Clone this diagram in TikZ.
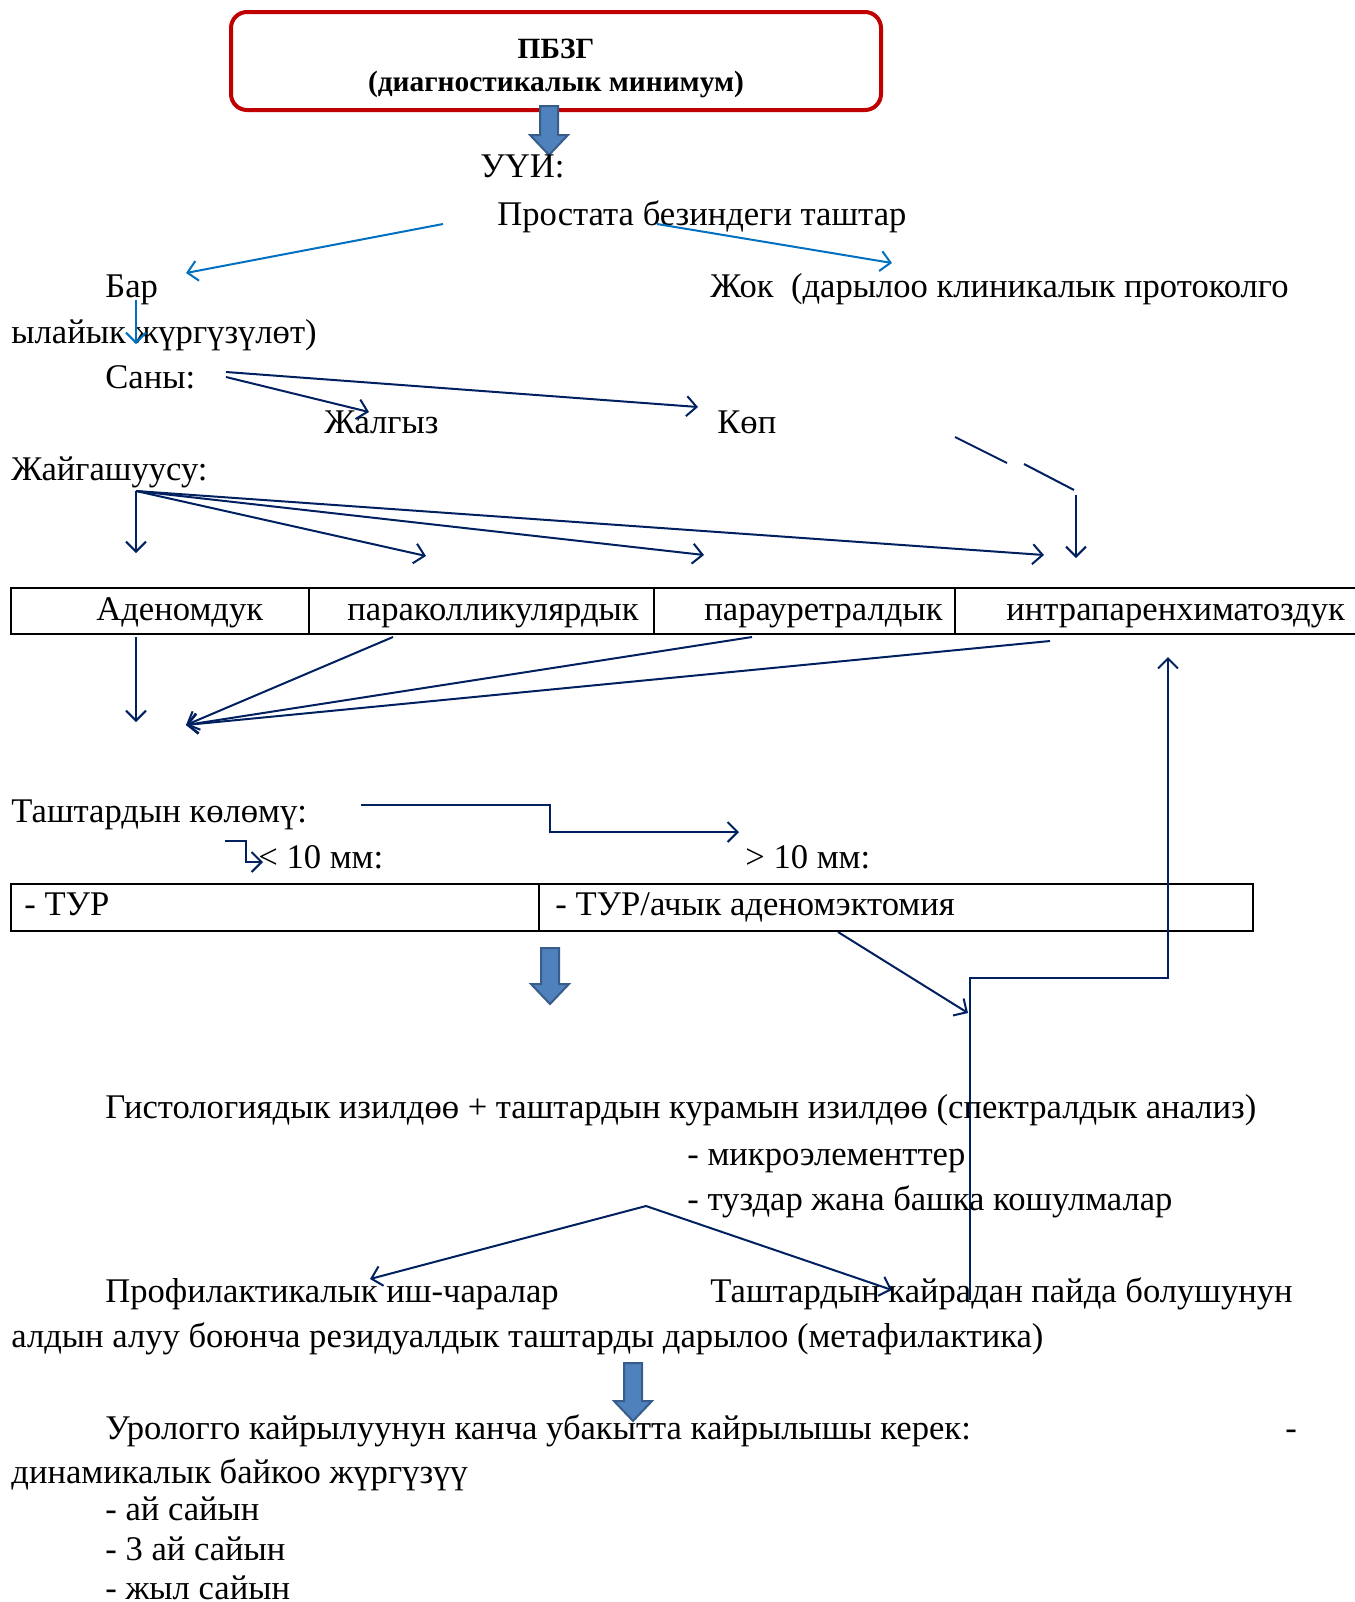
\documentclass[tikz,border=0pt]{standalone}
\usepackage{fontspec}
\setmainfont{Liberation Serif}
\usetikzlibrary{arrows.meta}
\definecolor{navy}{RGB}{0,32,96}
\definecolor{lblue}{RGB}{0,112,192}
\definecolor{bafill}{RGB}{79,129,189}
\definecolor{baedge}{RGB}{56,93,138}
\definecolor{boxred}{RGB}{192,0,0}
\begin{document}
\begin{tikzpicture}[x=0.5pt,y=-0.5pt,
  txt/.style={anchor=base west, inner sep=0, font=\fontsize{17.3}{20}\selectfont},
  btxt/.style={anchor=center, inner sep=0, font=\fontsize{14.7}{17}\selectfont\bfseries},
  barb/.style={-{Straight Barb[length=5pt,width=10pt,line width=1pt]}},
  nav/.style={draw=navy, line width=1pt, barb},
  navline/.style={draw=navy, line width=1pt},
  blu/.style={draw=lblue, line width=1pt, barb},
  tab/.style={draw=black, line width=1pt},
  blockarrow/.pic={\filldraw[fill=bafill, draw=baedge, line width=1pt]
     (-9,0) -- (9,0) -- (9,#1) -- (19,#1) -- (0,#1+20) -- (-19,#1) -- (-9,#1) -- cycle;},
]
\useasboundingbox (0,0) rectangle (1355,1602);

% top box
\draw[boxred, line width=2pt, rounded corners=8pt] (231,12) rectangle (881,110);
\node[btxt] (t1) at (556,49) {ПБЗГ};
\node[btxt] (t2) at (556,84) {(диагностикалык минимум)};
\pic at (549,106) {blockarrow=29};

\node[txt] (uui) at (480,177) {УҮИ:};
\node[txt] (pros) at (497,225) {Простата безиндеги таштар};
\node[txt] (bar) at (105,297) {Бар};
\node[txt] (jok) at (710,297) {Жок\ \ (дарылоо клиникалык протоколго};
\node[txt] (ylay) at (11,343) {ылайык жүргүзүлөт)};
\node[txt] (sany) at (105,388) {Саны:};
\node[txt] (jalg) at (324,433) {Жалгыз};
\node[txt] (kop) at (717,433) {Көп};
\node[txt] (jaig) at (11,480) {Жайгашуусу:};

\coordinate (p1) at (443,224); \coordinate (p1e) at (186,273);
\coordinate (p2) at (657,224); \coordinate (p2e) at (892,263);
\draw[blu] (p1) -- (p1e);
\draw[blu] (p2) -- (p2e);
\coordinate (b1) at (136,300); \coordinate (b1e) at (136,344);
\draw[blu] (b1) -- (b1e);

\coordinate (s1) at (226,372); \coordinate (s1e) at (698,407);
\coordinate (s2) at (226,377); \coordinate (s2e) at (369,412);
\draw[nav] (s1) -- (s1e);
\draw[nav] (s2) -- (s2e);

\coordinate (d1) at (955,437); \coordinate (d2) at (1007,463);
\coordinate (d3) at (1024,464); \coordinate (d4) at (1074,490);
\draw[navline] (d1) -- (d2);
\draw[navline] (d3) -- (d4);
\coordinate (v1) at (1076,495); \coordinate (v1e) at (1076,558);
\draw[nav] (v1) -- (v1e);

\coordinate (jo) at (136,491);
\coordinate (j1) at (136,553); \coordinate (j2) at (426,556);
\coordinate (j3) at (704,555); \coordinate (j4) at (1044,555);
\draw[nav] (jo) -- (j1);
\draw[nav] (jo) -- (j2);
\draw[nav] (jo) -- (j3);
\draw[nav] (jo) -- (j4);

% table 1
\draw[tab] (1360,588) -- (11,588) -- (11,634) -- (1360,634);
\draw[tab] (309,588) -- (309,634);
\draw[tab] (654,588) -- (654,634);
\draw[tab] (955,588) -- (955,634);
\node[txt] (c1) at (96,620) {Аденомдук};
\node[txt] (c2) at (347,620) {параколликулярдык};
\node[txt] (c3) at (704,620) {парауретралдык};
\node[txt] (c4) at (1006,620) {интрапаренхиматоздук};

\coordinate (a1) at (136,637); \coordinate (a1e) at (136,722);
\coordinate (m) at (186,725);
\coordinate (a2) at (393,637); \coordinate (a3) at (752,637); \coordinate (a4) at (1050,641);
\draw[nav] (a1) -- (a1e);
\draw[nav] (a2) -- (m);
\draw[nav] (a3) -- (m);
\draw[nav] (a4) -- (m);

\node[txt] (kol) at (11,822) {Таштардын көлөмү:};
\node[txt] (lt) at (258,868) {< 10 мм:};
\node[txt] (gt) at (745,868) {> 10 мм:};
\coordinate (k1) at (361,805); \coordinate (k1e) at (739,832);
\draw[nav] (k1) -- (550,805) -- (550,832) -- (k1e);
\coordinate (k2) at (225,841); \coordinate (k2e) at (263,862);
\draw[nav] (k2) -- (246,841) -- (246,862) -- (k2e);

% table 2
\draw[tab] (11,884) rectangle (1253,931);
\draw[tab] (539,884) -- (539,931);
\node[txt] (tur) at (24,915) {- ТУР};
\node[txt] (tur2) at (555,915) {- ТУР/ачык аденомэктомия};

\coordinate (r1) at (838,932); \coordinate (r1e) at (968,1013);
\draw[nav] (r1) -- (r1e);
\coordinate (l0) at (970,1300); \coordinate (l1e) at (1168,657);
\draw[nav] (l0) -- (970,978) -- (1168,978) -- (l1e);

\pic at (550,948) {blockarrow=36};

\node[txt] (gist) at (105,1118) {Гистологиядык изилдөө + таштардын курамын изилдөө (спектралдык анализ)};
\node[txt] (mikro) at (687,1165) {- микроэлементтер};
\node[txt] (tuz) at (687,1210) {- туздар жана башка кошулмалар};

\coordinate (ap) at (646,1206);
\coordinate (apl) at (370,1279); \coordinate (apr) at (892,1290);
\draw[nav] (ap) -- (apl);
\draw[nav] (ap) -- (apr);

\node[txt] (prof) at (105,1302) {Профилактикалык иш-чаралар};
\node[txt] (tash) at (710,1302) {Таштардын кайрадан пайда болушунун};
\node[txt] (aldyn) at (11,1347) {алдын алуу боюнча резидуалдык таштарды дарылоо (метафилактика)};

\pic at (633,1363) {blockarrow=38};

\node[txt] (urol) at (105,1439) {Урологго кайрылуунун канча убакытта кайрылышы керек:};
\node[txt] (dash) at (1285,1439) {-};
\node[txt] (din) at (11,1483) {динамикалык байкоо жүргүзүү};
\node[txt] (ay1) at (105,1520) {- ай сайын};
\node[txt] (ay3) at (105,1560) {- 3 ай сайын};
\node[txt] (jyl) at (105,1599) {- жыл сайын};
\end{tikzpicture}
\end{document}
